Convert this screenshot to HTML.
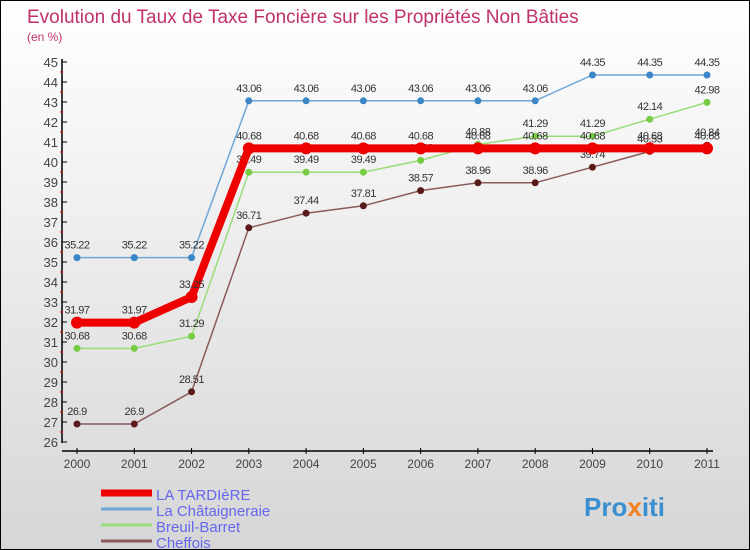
<!DOCTYPE html>
<html><head><meta charset="utf-8"><style>
body{margin:0}
#c{width:750px;height:550px;position:relative;box-sizing:border-box;border:1px solid #000;background:linear-gradient(#ffffff,#d6d6d6);font-family:"Liberation Sans",sans-serif;overflow:hidden}
svg text{font-family:"Liberation Sans",sans-serif}
</style></head><body>
<div id="c">
<svg id="s" width="750" height="550">
<text x="26" y="22" font-size="19" fill="#c0306a">Evolution du Taux de Taxe Foncière sur les Propriétés Non Bâties</text>
<text x="26" y="40" font-size="12" fill="#c0306a">(en %)</text>
<g id="ax"></g><g id="ser"></g>
<text x="583" y="515" font-size="26" font-weight="bold" fill="#3a8fd0">Pro<tspan fill="#f08020">x</tspan>iti</text>
</svg></div>
<script>
const years=["2000","2001","2002","2003","2004","2005","2006","2007","2008","2009","2010","2011"];
const yTicks=[26,27,28,29,30,31,32,33,34,35,36,37,38,39,40,41,42,43,44,45];
const tardiere=[31.97,31.97,33.25,40.68,40.68,40.68,40.68,40.68,40.68,40.68,40.68,40.68];
const chataigneraie=[35.22,35.22,35.22,43.06,43.06,43.06,43.06,43.06,43.06,44.35,44.35,44.35];
const breuil=[30.68,30.68,31.29,39.49,39.49,39.49,40.08,40.88,41.29,41.29,42.14,42.98];
const cheffois=[26.9,26.9,28.51,36.71,37.44,37.81,38.57,38.96,38.96,39.74,40.53,40.84];
const NS="http://www.w3.org/2000/svg";
const X=i=>76+i*(630/11);
const Y=v=>441-(v-26)*20;
function mk(tag,attrs,parent,txt){const e=document.createElementNS(NS,tag);for(const k in attrs)e.setAttribute(k,attrs[k]);if(txt!==undefined)e.textContent=txt;parent.appendChild(e);return e;}
const ax=document.getElementById('ax');
let e=mk('line',{x1:61,y1:58,x2:61,y2:442,stroke:'#000','stroke-width':1.5},ax);

e=mk('line',{x1:61,y1:450,x2:712,y2:450,stroke:'#000','stroke-width':1.5},ax);

yTicks.forEach(v=>{
 mk('line',{x1:61,y1:Y(v),x2:66,y2:Y(v),stroke:'#000'},ax);
 if(v<45)mk('line',{x1:59,y1:Y(v)-10,x2:62,y2:Y(v)-10,stroke:'#e00'},ax);
 e=mk('text',{x:57,y:Y(v)+5,'font-size':13,'text-anchor':'end',fill:'#444'},ax,String(v));
 
});
years.forEach((y,i)=>{
 mk('line',{x1:X(i),y1:447,x2:X(i),y2:453,stroke:'#000'},ax);
 e=mk('text',{x:X(i),y:467,'font-size':12,'text-anchor':'middle',fill:'#444'},ax,y);
 
});
const ser=document.getElementById('ser');
const series=[
 {n:'Cheffois',d:cheffois,c:'#8b5a5a',p:'#5a1a1a',w:1.5,r:3.5},
 {n:'Breuil-Barret',d:breuil,c:'#99dd77',p:'#77cc44',w:1.5,r:3.5},
 {n:'La Châtaigneraie',d:chataigneraie,c:'#6fa6d6',p:'#3a86c6',w:1.5,r:3.5},
 {n:'LA TARDIèRE',d:tardiere,c:'#ee0000',p:'#ee0000',w:8,r:6}
];
series.forEach((s,k)=>{
 const g=mk('g',{},ser);
 
 
 const l=mk('polyline',{points:s.d.map((v,i)=>X(i)+','+Y(v)).join(' '),fill:'none',stroke:s.c,'stroke-width':s.w},g);
 
 s.d.forEach((v,i)=>{
  const c=mk('circle',{cx:X(i),cy:Y(v),r:s.r,fill:s.p},g);
  
  const t=mk('text',{x:X(i),y:Y(v)-9,'font-size':11,'text-anchor':'middle',fill:'#333','letter-spacing':'-0.5'},g,String(v));
  
 });
});
const leg=[['LA TARDIèRE','#ee0000',7],['La Châtaigneraie','#6fa6d6',3],['Breuil-Barret','#99dd77',3],['Cheffois','#8b5a5a',3]];
leg.forEach((L,i)=>{
 const y=492+i*16;
 const g=mk('g',{},ser);
 
 mk('line',{x1:100,y1:y,x2:151,y2:y,stroke:L[1],'stroke-width':L[2]},g);
 mk('text',{x:155,y:y+7,'font-size':15,fill:'#6666ee'},g,L[0]);
});
</script>
</body></html>
